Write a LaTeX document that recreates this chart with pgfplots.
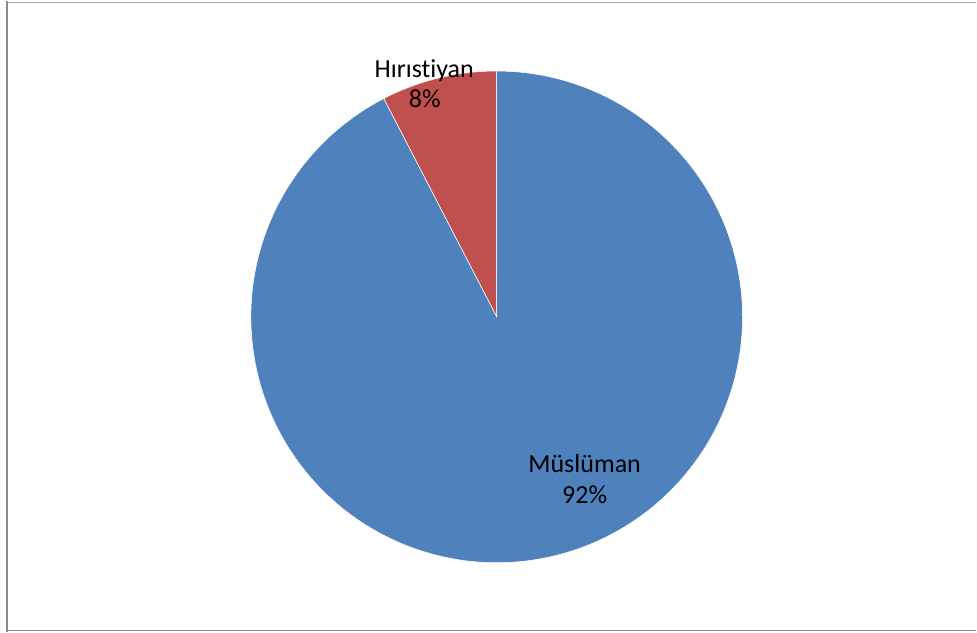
\documentclass[border=0pt]{standalone}
\usepackage{pgfplots}
\usepackage{pgfplotstable}
\pgfplotsset{compat=1.18}
\usepackage{fontspec}
\setmainfont{Carlito}[Ligatures=NoCommon]
\definecolor{pieblue}{HTML}{4F81BD}
\definecolor{piered}{HTML}{C0504D}
\definecolor{framegray}{HTML}{8C8C8C}
\pgfplotstableread{
name value
Hristiyan 7.6
Musluman 92.4
}\pietable
\begin{document}
\begin{tikzpicture}
\pgfplotstablegetelem{0}{value}\of\pietable
\pgfmathsetmacro{\va}{\pgfplotsretval}
\pgfplotstablegetelem{1}{value}\of\pietable
\pgfmathsetmacro{\vb}{\pgfplotsretval}
\pgfmathsetmacro{\aA}{90}
\pgfmathsetmacro{\aB}{90+\va*3.6}
\pgfmathsetmacro{\aC}{\aB+\vb*3.6}
% canvas (1px = 0.75pt)
\fill[white] (0pt,0pt) rectangle (732.75pt,473.25pt);
\draw[framegray,line width=1.6pt] (5.25pt,0pt) -- (5.25pt,473.25pt);
\draw[framegray!80,line width=0.9pt] (5.25pt,472.3pt) -- (732.75pt,472.3pt);
\draw[framegray,line width=0.9pt] (5.25pt,0.9pt) -- (732.75pt,0.9pt);
\begin{axis}[
  at={(372.75pt,236.25pt)}, anchor=center,
  scale only axis, width=369pt, height=369pt,
  xmin=-1, xmax=1, ymin=-1, ymax=1,
  hide axis, clip=false,
]
\addplot[fill=piered, draw=white, line width=0.4pt, domain=\aA:\aB, samples=60, variable=\t]
  ({cos(\t)},{sin(\t)}) -- (0,0) -- cycle;
\addplot[fill=pieblue, draw=white, line width=0.4pt, domain=\aB:\aC, samples=200, variable=\t]
  ({cos(\t)},{sin(\t)}) -- (0,0) -- cycle;
\tikzset{lab/.style={anchor=base, inner sep=0pt, font=\fontsize{19.5pt}{23pt}\selectfont}}
\node[lab] at (axis cs:-0.2947,0.9756) {Hırıstiyan};
\node[lab] at (axis cs:-0.2927,0.8496) {8\%};
\node[lab] at (axis cs:0.3577,-0.634) {Müslüman};
\node[lab] at (axis cs:0.3577,-0.760) {92\%};
\end{axis}
\end{tikzpicture}
\end{document}
